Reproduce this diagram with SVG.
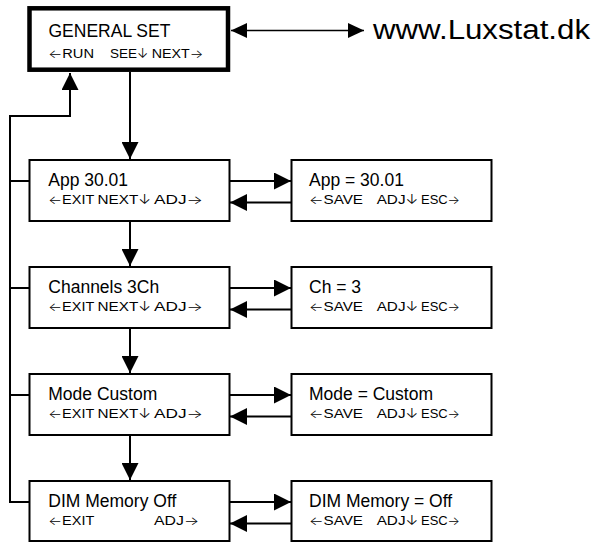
<svg xmlns="http://www.w3.org/2000/svg" width="599" height="542" viewBox="0 0 599 542">
  <style>
    text { font-family: "Liberation Sans", Arial, sans-serif; fill: #000; }
    .t1 { font-size: 17.5px; }
    .t2 { font-size: 12.5px; }
    .ar { font-family: Inter, "DejaVu Sans", sans-serif; font-weight: 300; }
    .url { font-size: 27px; }
    .box { fill: #fff; stroke: #000; stroke-width: 2; }
    .main { fill: #fff; stroke: #000; stroke-width: 4.5; }
    .ln { fill: none; stroke: #000; stroke-width: 2; }
    .thin { fill: none; stroke: #000; stroke-width: 1.6; }
  </style>
  <defs>
    <marker id="ah" viewBox="0 0 17 17" refX="17" refY="8.5" markerWidth="17" markerHeight="17" markerUnits="userSpaceOnUse" orient="auto-start-reverse">
      <path d="M0,0 L17,8.5 L0,17 Z" fill="#000"/>
    </marker>
    <marker id="ahs" viewBox="0 0 16 15" refX="16" refY="7.5" markerWidth="16" markerHeight="15" markerUnits="userSpaceOnUse" orient="auto-start-reverse">
      <path d="M0,0 L16,7.5 L0,15 Z" fill="#000"/>
    </marker>
  </defs>

  <!-- connectors -->
  <g id="connectors">
    <!-- link to web site -->
    <path class="thin" d="M231,30.5 H364" marker-start="url(#ahs)" marker-end="url(#ahs)"/>
    <!-- main chain downwards -->
    <path class="ln" d="M130,72 V159" marker-end="url(#ah)"/>
    <path class="ln" d="M130,221 V266" marker-end="url(#ah)"/>
    <path class="ln" d="M130,328 V373" marker-end="url(#ah)"/>
    <path class="ln" d="M130,435 V480" marker-end="url(#ah)"/>
    <!-- exit loop back to GENERAL SET -->
    <path class="ln" d="M29.5,502 H10 V116 H70 V73" marker-end="url(#ah)"/>
    <path class="ln" d="M10,181 H29.5 M10,288 H29.5 M10,395 H29.5"/>
    <!-- adjust / return pairs -->
    <path class="ln" d="M230,181 H291" marker-end="url(#ah)"/>
    <path class="ln" d="M291,202.5 H230" marker-end="url(#ah)"/>
    <path class="ln" d="M230,288 H291" marker-end="url(#ah)"/>
    <path class="ln" d="M291,309.5 H230" marker-end="url(#ah)"/>
    <path class="ln" d="M230,395 H291" marker-end="url(#ah)"/>
    <path class="ln" d="M291,416.5 H230" marker-end="url(#ah)"/>
    <path class="ln" d="M230,502 H291" marker-end="url(#ah)"/>
    <path class="ln" d="M291,523.5 H230" marker-end="url(#ah)"/>
  </g>

  <g id="general-set">
    <rect class="main" x="29.5" y="8.3" width="198.5" height="61.4"/>
    <text class="t1" x="48.5" y="37">GENERAL SET</text>
    <text class="t2" x="48.3" y="57.5" textLength="45.7" lengthAdjust="spacingAndGlyphs"><tspan class="ar">←</tspan>RUN</text>
    <text class="t2" x="110" y="57.5" textLength="38.3" lengthAdjust="spacingAndGlyphs">SEE<tspan class="ar">↓</tspan></text>
    <text class="t2" x="151.7" y="57.5" textLength="51.6" lengthAdjust="spacingAndGlyphs">NEXT<tspan class="ar">→</tspan></text>
  </g>

  <g id="website">
    <text class="url" x="373" y="38.5" textLength="217" lengthAdjust="spacingAndGlyphs">www.Luxstat.dk</text>
  </g>

  <g id="app">
    <rect class="box" x="29.5" y="160" width="200" height="61"/>
    <text class="t1" x="48.3" y="186">App 30.01</text>
    <text class="t2" x="48.3" y="204" textLength="46" lengthAdjust="spacingAndGlyphs"><tspan class="ar">←</tspan>EXIT</text>
    <text class="t2" x="97.5" y="204" textLength="53.5" lengthAdjust="spacingAndGlyphs">NEXT<tspan class="ar">↓</tspan></text>
    <text class="t2" x="154" y="204" textLength="49" lengthAdjust="spacingAndGlyphs">ADJ<tspan class="ar">→</tspan></text>
  </g>
  <g id="app-set">
    <rect class="box" x="291.5" y="160" width="200" height="61"/>
    <text class="t1" x="309" y="186">App = 30.01</text>
    <text class="t2" x="309" y="204" textLength="54" lengthAdjust="spacingAndGlyphs"><tspan class="ar">←</tspan>SAVE</text>
    <text class="t2" x="376.7" y="204" textLength="41.6" lengthAdjust="spacingAndGlyphs">ADJ<tspan class="ar">↓</tspan></text>
    <text class="t2" x="421" y="204" textLength="39" lengthAdjust="spacingAndGlyphs">ESC<tspan class="ar">→</tspan></text>
  </g>

  <g id="channels">
    <rect class="box" x="29.5" y="267" width="200" height="61"/>
    <text class="t1" x="48.3" y="293">Channels 3Ch</text>
    <text class="t2" x="48.3" y="311" textLength="46" lengthAdjust="spacingAndGlyphs"><tspan class="ar">←</tspan>EXIT</text>
    <text class="t2" x="97.5" y="311" textLength="53.5" lengthAdjust="spacingAndGlyphs">NEXT<tspan class="ar">↓</tspan></text>
    <text class="t2" x="154" y="311" textLength="49" lengthAdjust="spacingAndGlyphs">ADJ<tspan class="ar">→</tspan></text>
  </g>
  <g id="channels-set">
    <rect class="box" x="291.5" y="267" width="200" height="61"/>
    <text class="t1" x="309" y="293">Ch = 3</text>
    <text class="t2" x="309" y="311" textLength="54" lengthAdjust="spacingAndGlyphs"><tspan class="ar">←</tspan>SAVE</text>
    <text class="t2" x="376.7" y="311" textLength="41.6" lengthAdjust="spacingAndGlyphs">ADJ<tspan class="ar">↓</tspan></text>
    <text class="t2" x="421" y="311" textLength="39" lengthAdjust="spacingAndGlyphs">ESC<tspan class="ar">→</tspan></text>
  </g>

  <g id="mode">
    <rect class="box" x="29.5" y="374" width="200" height="61"/>
    <text class="t1" x="48.3" y="400">Mode Custom</text>
    <text class="t2" x="48.3" y="418" textLength="46" lengthAdjust="spacingAndGlyphs"><tspan class="ar">←</tspan>EXIT</text>
    <text class="t2" x="97.5" y="418" textLength="53.5" lengthAdjust="spacingAndGlyphs">NEXT<tspan class="ar">↓</tspan></text>
    <text class="t2" x="154" y="418" textLength="49" lengthAdjust="spacingAndGlyphs">ADJ<tspan class="ar">→</tspan></text>
  </g>
  <g id="mode-set">
    <rect class="box" x="291.5" y="374" width="200" height="61"/>
    <text class="t1" x="309" y="400">Mode = Custom</text>
    <text class="t2" x="309" y="418" textLength="54" lengthAdjust="spacingAndGlyphs"><tspan class="ar">←</tspan>SAVE</text>
    <text class="t2" x="376.7" y="418" textLength="41.6" lengthAdjust="spacingAndGlyphs">ADJ<tspan class="ar">↓</tspan></text>
    <text class="t2" x="421" y="418" textLength="39" lengthAdjust="spacingAndGlyphs">ESC<tspan class="ar">→</tspan></text>
  </g>

  <g id="dim-memory">
    <rect class="box" x="29.5" y="481" width="200" height="60"/>
    <text class="t1" x="48.3" y="507">DIM Memory Off</text>
    <text class="t2" x="48.3" y="525" textLength="46" lengthAdjust="spacingAndGlyphs"><tspan class="ar">←</tspan>EXIT</text>
    <text class="t2" x="154" y="525" textLength="45" lengthAdjust="spacingAndGlyphs">ADJ<tspan class="ar">→</tspan></text>
  </g>
  <g id="dim-memory-set">
    <rect class="box" x="291.5" y="481" width="200" height="60"/>
    <text class="t1" x="309" y="507">DIM Memory = Off</text>
    <text class="t2" x="309" y="525" textLength="54" lengthAdjust="spacingAndGlyphs"><tspan class="ar">←</tspan>SAVE</text>
    <text class="t2" x="376.7" y="525" textLength="41.6" lengthAdjust="spacingAndGlyphs">ADJ<tspan class="ar">↓</tspan></text>
    <text class="t2" x="421" y="525" textLength="39" lengthAdjust="spacingAndGlyphs">ESC<tspan class="ar">→</tspan></text>
  </g>
</svg>
